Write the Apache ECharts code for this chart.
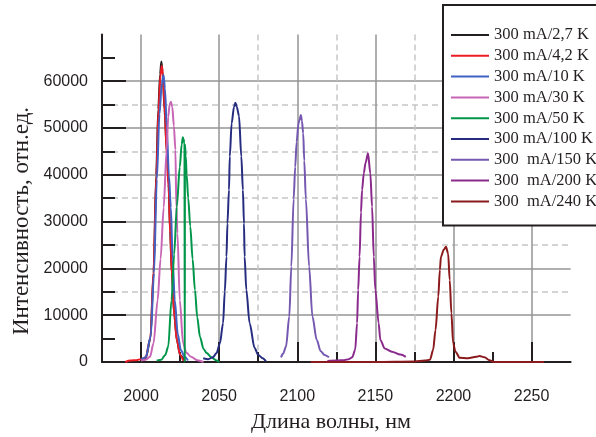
<!DOCTYPE html>
<html>
<head>
<meta charset="utf-8">
<script src="https://cdn.jsdelivr.net/npm/echarts@6/dist/echarts.min.js"></script>
<style>
html,body{margin:0;padding:0;background:#fff;}
#chart{width:596px;height:437px;}
</style>
</head>
<body>
<div id="chart"></div>
<script>
// ---- data (wavelength nm, intensity a.u.) ----
const seriesNames = ['300 mA/2,7 K','300 mA/4,2 K','300 mA/10 K','300 mA/30 K','300 mA/50 K','300 mA/100 K','300  mA/150 K','300  mA/200 K','300  mA/240 K'];
const seriesColors = ['#231f20','#ed1c24','#3f62c4','#c865b5','#00964a','#262d80','#7558b0','#8a2a8c','#8b1a1c'];

const s2_7K = [[2000,200],[2003,800],[2006,5000],[2008,19000],[2009.7,40000],[2011,54000],[2012.2,61500],[2013,64200],[2013.8,62000],[2015,54000],[2016.5,45000],[2017.6,38000],[2018.6,28000],[2019.7,19000],[2021.3,10000],[2022.9,4700],[2025,1500],[2028,200]];
const s4_2K = [[1990,0],[1993,300],[1997,400],[2000,600],[2003,1000],[2006,5200],[2008,19500],[2009.8,40000],[2011.2,54000],[2012.5,61500],[2013.3,63300],[2014.1,61000],[2015.2,53000],[2016.6,44000],[2017.7,37000],[2018.7,27000],[2019.8,18500],[2021.4,9500],[2023,4500],[2025,1500],[2027,300]];
const s10K = [[2000,500],[2003,1000],[2006.2,5500],[2008.3,19000],[2010.1,39000],[2011.8,53000],[2013.3,59500],[2014.4,61300],[2015.3,58500],[2016.5,50000],[2017.8,40000],[2019.1,33000],[2020.2,22000],[2021.6,13200],[2023.5,6000],[2025.5,2500],[2028,1100],[2030,300]];
const s30K = [[2000,300],[2003,500],[2005.7,1100],[2008,4000],[2010.6,13200],[2012.5,22000],[2014.5,33000],[2016.3,45000],[2017.4,52400],[2018.3,55000],[2019.1,55600],[2020,54500],[2021,50500],[2022,45300],[2022.6,33000],[2023.3,27500],[2024.8,13200],[2026.9,4000],[2029,2000],[2032,1100],[2036,400],[2040,0]];
const s50K = [[2010,300],[2013,500],[2015.5,1500],[2017.4,3300],[2019.5,13200],[2021.2,23000],[2022.9,33200],[2024.8,41700],[2026,46500],[2026.8,48000],[2027.3,47000],[2027.8,47500],[2028,0],[2028.1,46500],[2028.6,44000],[2029.2,40000],[2030.2,35000],[2031.5,29000],[2033,22000],[2034.5,15400],[2036,9500],[2037.7,5400],[2040,2800],[2042,1900],[2045,1000],[2048,400],[2050,0]];
const s100K = [[2039.8,800],[2043,600],[2046,1000],[2048.3,1900],[2050.5,4000],[2052.5,8300],[2053.6,15000],[2054.7,22500],[2055.3,29600],[2056.3,36750],[2056.8,43900],[2058,51000],[2059.5,54500],[2060.4,55400],[2061.3,54500],[2062.7,52600],[2064.2,43900],[2065.2,36750],[2065.9,29600],[2066.3,22500],[2067.4,15400],[2069.5,8300],[2072.7,3000],[2075,1500],[2077.9,800],[2080,100]];
const s150K = [[2089.6,1000],[2091,1800],[2092.8,3300],[2094.9,9700],[2096.2,20400],[2097.7,34900],[2098.7,41700],[2099.6,47000],[2100.8,51000],[2101.5,51800],[2102.3,52800],[2103,51500],[2103.8,48900],[2104.5,43000],[2105.5,34900],[2107.6,20400],[2109.7,9700],[2112.5,4700],[2115,2300],[2117.5,1500],[2120.3,1000]];
const s200K = [[2119.3,200],[2125,300],[2130,400],[2133,600],[2135.2,1000],[2137.1,2600],[2138.3,8300],[2139,15400],[2139.9,22500],[2140.8,32000],[2141.5,36750],[2142.6,40300],[2143.7,42500],[2145.3,44600],[2146.8,40300],[2147.9,33200],[2149,22500],[2150,15400],[2152.1,8300],[2153.2,4700],[2156,2900],[2160.6,2200],[2166,1600],[2169.5,1100]];
const s240K = [[2108.7,0],[2150,0],[2175,100],[2181.8,300],[2185,500],[2187,2600],[2188.5,6800],[2190.3,14000],[2191.3,19700],[2192,22500],[2193.8,24000],[2195.2,24600],[2196.6,23200],[2197.6,17500],[2198.7,10400],[2199.8,4000],[2201.3,2200],[2204,900],[2209.3,800],[2214.6,1100],[2216.7,1300],[2219.9,1000],[2223.1,400],[2226,0],[2258,0]];
const seriesData = [s2_7K, s4_2K, s10K, s30K, s50K, s100K, s150K, s200K, s240K];

// ---- axis ticks / labels ----
const xMajor = [2000,2050,2100,2150,2200,2250];
const xMinor = [2025,2075,2125,2175,2225];
const yMajor = [0,10000,20000,30000,40000,50000,60000];
const yMinor = [5000,15000,25000,35000,45000,55000,65000];
const xTitle = 'Длина волны, нм';
const yTitle = 'Интенсивность, отн.ед.';

const ink = '#231f20';
const chart = echarts.init(document.getElementById('chart'), null, {renderer:'canvas'});
const gridW = 596 - 102 - 25.4;
const gridH = 437 - 34.4 - 75;

const solidGrid = {show:true, lineStyle:{color:'#959595', width:1.5, type:'solid'}};
const dashGrid = {show:true, showMaxLine:false, showMinLine:false, lineStyle:{color:'#c6c6c6', width:1.5, type:[6,4]}};
const plain = v => String(v);

const option = {
  animation:false,
  backgroundColor:'#fff',
  grid:{left:102, right:25.4, top:34.4, bottom:75, containLabel:false},
  xAxis:[
    {type:'value', min:1975, max:2275, position:'bottom',
     axisLine:{show:true, onZero:false, lineStyle:{color:ink, width:2}},
     axisTick:{show:true, inside:true, length:20, customValues:xMajor, lineStyle:{color:ink, width:2}},
     axisLabel:{show:true, customValues:xMajor, formatter:plain, margin:27, fontSize:16, fontFamily:'Liberation Sans', color:ink},
     splitLine:solidGrid},
    {type:'value', min:1975, max:2275, position:'top', offset:-gridH,
     axisLine:{show:false, onZero:false},
     axisTick:{show:true, inside:false, length:10, customValues:xMinor, lineStyle:{color:ink, width:2}},
     axisLabel:{show:false},
     splitLine:dashGrid}
  ],
  yAxis:[
    {type:'value', min:0, max:70000, position:'left',
     axisLine:{show:true, onZero:false, lineStyle:{color:ink, width:2}},
     axisTick:{show:true, inside:true, length:24, customValues:yMajor, lineStyle:{color:ink, width:2}},
     axisLabel:{show:true, customValues:yMajor, formatter:plain, margin:14, fontSize:16, fontFamily:'Liberation Sans', color:ink},
     splitLine:solidGrid},
    {type:'value', min:0, max:70000, position:'right', offset:-gridW,
     axisLine:{show:false, onZero:false},
     axisTick:{show:true, inside:false, length:13, customValues:yMinor, lineStyle:{color:ink, width:2}},
     axisLabel:{show:false},
     splitLine:dashGrid}
  ],
  legend:{
    orient:'vertical', left:443, top:5,
    padding:[21.5, 14, 15.5, 8],
    icon:'rect',
    itemWidth:38, itemHeight:2, itemGap:3.8,
    backgroundColor:'#fff', borderColor:ink, borderWidth:2,
    textStyle:{fontFamily:'Liberation Serif', fontSize:16.5, lineHeight:16, color:ink},
    data:seriesNames
  },
  graphic:[
    {type:'text', x:331, y:422, style:{text:xTitle, font:'22px "Liberation Serif"', fill:ink, textAlign:'center', textVerticalAlign:'middle'}},
    {type:'text', x:22, y:221, rotation:Math.PI/2, style:{text:yTitle, font:'23px "Liberation Serif"', fill:ink, textAlign:'center', textVerticalAlign:'middle'}}
  ],
  series: seriesNames.map((n,i)=>({
    name:n, type:'line', xAxisIndex:0, yAxisIndex:0,
    data:seriesData[i], symbol:'none', smooth:0.3, smoothMonotone:'x',
    lineStyle:{color:seriesColors[i], width:2},
    itemStyle:{color:seriesColors[i]}
  }))
};
chart.setOption(option);
</script>
</body>
</html>
